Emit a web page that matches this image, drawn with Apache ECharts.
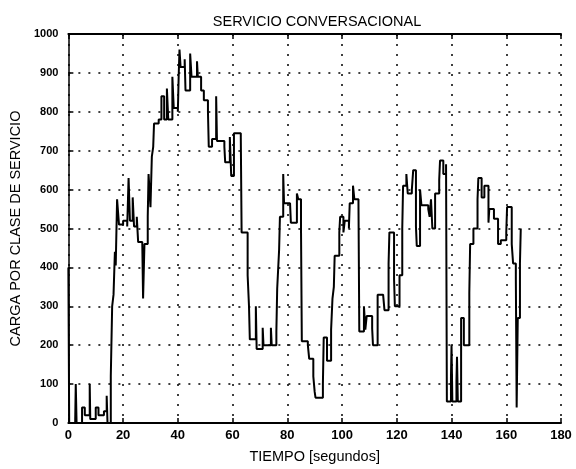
<!DOCTYPE html>
<html><head><meta charset="utf-8">
<script src="https://cdn.jsdelivr.net/npm/echarts@6/dist/echarts.min.js"></script>
<style>html,body{margin:0;padding:0;background:#fff}#c{width:576px;height:469px}</style>
</head><body><div id="c"></div>
<script>
const title = "SERVICIO CONVERSACIONAL";
const xName = "TIEMPO [segundos]";
const yName = "CARGA POR CLASE DE SERVICIO";
const xTicks = [0,20,40,60,80,100,120,140,160,180];
const yTicks = [0,100,200,300,400,500,600,700,800,900,1000];
const times = [0,0.3,2.5,2.7,3,5,6,7.8,8,10,11,13,14,14.3,15.5,16,16.5,17,17.3,17.8,18.5,20,21.5,22,22.5,23.5,24,25,25.5,27,27.3,27.8,29,29.3,30,30.5,31,31.3,33,34,35,36,36.5,38,38.5,40,40.3,40.6,41,42.5,42.8,44.5,45,47,47.3,48.5,49.5,51,51.3,52.5,54,54.3,55.5,57,57.3,59,59.5,60.5,62,63,63.3,65.5,66,66.3,68.5,68.8,71,71.3,74,74.3,76,76.3,77,77.3,78.5,78.8,81,81.3,83.5,84,85,85.3,87.5,88,89.5,90,90.3,93,93.3,94.5,96,96.5,97,97.3,99,99.3,100.5,101,102.5,102.8,104,104.5,106,106.3,108,108.5,109,111,111.3,113,115,115.5,117,117.3,119,119.3,121,122,122.3,123.5,124,125.5,126,127,127.3,128.5,129,131.5,132,132.5,133,134,135.5,135.8,137,138,138.3,139.8,140,140.3,141.8,142,142.3,143.5,144.5,146.5,146.8,148,149.5,149.8,151,152,153.5,153.8,155.5,157,158,160,160.3,162,162.5,163.5,163.8,164.2,165,165.3];
const loads = [400,0,10,100,0,40,20,100,10,40,20,30,70,0,120,300,330,440,405,575,510,520,505,630,520,580,505,530,465,465,320,460,530,640,555,685,710,770,780,840,780,860,780,890,810,800,890,960,915,935,855,950,890,930,890,855,830,800,710,730,840,725,725,710,670,735,635,745,745,735,490,380,300,215,300,190,245,200,245,200,235,345,445,530,640,565,565,515,590,575,500,210,200,165,120,80,65,100,220,160,240,320,350,430,490,530,490,520,500,565,610,575,565,235,300,240,275,243,200,330,330,290,410,490,370,300,380,500,610,640,590,600,650,505,455,600,560,550,530,575,500,590,625,675,640,665,55,120,200,55,110,170,55,270,200,335,460,500,575,630,580,610,515,550,525,460,470,490,555,460,410,370,40,270,410,500];

const font = "'Liberation Sans', Arial, sans-serif";
const chart = echarts.init(document.getElementById('c'));
const gridDash = {color:'#000', width:1.5, type:[2,8]};
chart.setOption({
  animation:false,
  backgroundColor:'#fff',
  title:{text:title, left:312, top:9, textAlign:'center',
    textStyle:{fontFamily:font, fontSize:14.5, fontWeight:'normal', color:'#000'}},
  grid:{left:68, right:15, top:34, bottom:45},
  xAxis:[{
    type:'value', min:0, max:180, interval:20, position:'bottom',
    name:xName, nameLocation:'middle', nameGap:26,
    nameTextStyle:{fontFamily:font, fontSize:14.5, color:'#000'},
    axisLine:{show:true, lineStyle:{color:'#000', width:2}},
    axisTick:{show:true, inside:true, length:5, lineStyle:{color:'#000', width:1.5}},
    axisLabel:{fontFamily:font, fontSize:13, fontWeight:'bold', color:'#000', margin:6, formatter:v=>xTicks.includes(v)?String(v):''},
    splitLine:{show:true, lineStyle:gridDash}
  },{
    type:'value', min:0, max:180, interval:20, position:'top',
    axisLine:{show:true, lineStyle:{color:'#000', width:2}},
    axisTick:{show:true, inside:true, length:5, lineStyle:{color:'#000', width:1.5}},
    axisLabel:{show:false}, splitLine:{show:false}
  }],
  yAxis:{
    type:'value', min:0, max:1000, interval:100,
    name:yName, nameLocation:'middle', nameGap:43, nameRotate:90,
    nameTextStyle:{fontFamily:font, fontSize:14.5, color:'#000'},
    axisLine:{show:true, lineStyle:{color:'#000', width:1.5}},
    axisTick:{show:true, inside:true, length:5, lineStyle:{color:'#000', width:1.5}},
    axisLabel:{fontFamily:font, fontSize:11, fontWeight:'bold', color:'#000', margin:10, formatter:v=>yTicks.includes(v)?String(v):''},
    splitLine:{show:true, lineStyle:gridDash}
  },
  series:[{
    type:'line', xAxisIndex:0, showSymbol:false, symbol:'none', step:'end',
    data: times.map((t,i)=>[t, loads[i]]),
    lineStyle:{color:'#000', width:2}
  }]
});
</script></body></html>
